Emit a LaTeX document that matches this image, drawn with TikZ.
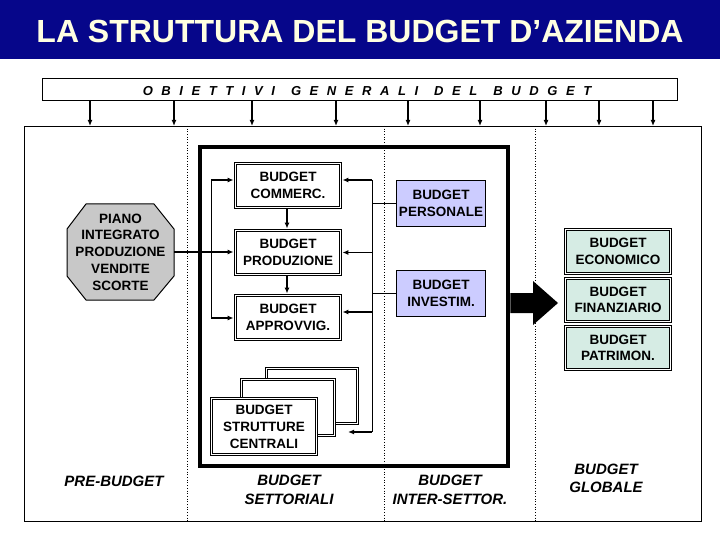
\documentclass[tikz,border=0pt]{standalone}
\usepackage{fontspec}
\setmainfont{Liberation Sans}
\usetikzlibrary{arrows.meta}
\definecolor{titleblue}{RGB}{6,6,138}
\definecolor{titlecream}{RGB}{255,255,225}
\definecolor{lav}{RGB}{204,204,255}
\definecolor{tealbox}{RGB}{214,236,228}
\definecolor{octgray}{RGB}{200,200,200}
\newcommand\boxfont{\fontsize{13.5}{16.5}\selectfont\bfseries}
\newcommand\labfont{\fontsize{15}{18.5}\selectfont\bfseries\itshape}
\tikzset{
  arr/.style={-{Latex[length=6pt,width=5pt]}, line width=1.2pt},
  thinln/.style={line width=1pt},
  dbl/.style={draw, double=white, double distance=1.4pt, line width=0.8pt,
              fill=white, align=center, font=\boxfont, inner sep=0pt},
  lavbox/.style={draw, line width=1pt, fill=lav, align=center, font=\boxfont,
              inner sep=0pt, minimum width=89pt, minimum height=46pt},
  tbox/.style={dbl, fill=tealbox, minimum width=105pt, minimum height=43pt},
  sbox/.style={dbl, minimum width=105pt, minimum height=44pt},
  lab/.style={align=center, font=\labfont, inner sep=0pt},
  divider/.style={dotted, line width=0.7pt}
}
\begin{document}
\begin{tikzpicture}[x=1pt,y=-1pt]
\useasboundingbox (0,0) rectangle (720,540);
\fill[white] (0,0) rectangle (720,540);
\fill[titleblue] (0,0) rectangle (720,59);
\node[font=\fontsize{32}{32}\selectfont\bfseries, text=titlecream, inner sep=0] (title) at (360,31) {LA STRUTTURA DEL BUDGET D’AZIENDA};

% objectives
\node[draw, line width=1pt, minimum width=635pt, minimum height=22pt, inner sep=0] (obj) at (359.5,90) {};
\node[inner sep=0, font=\fontsize{13}{13}\selectfont\bfseries\itshape\addfontfeature{LetterSpace=66}] (objt) at (367,91)
  {OBIETTIVI\hspace{16pt}GENERALI\hspace{16pt}DEL\hspace{16pt}BUDGET};

% main frame
\node[draw, line width=1.2pt, minimum width=677pt, minimum height=395pt, inner sep=0, anchor=north west] (frame) at (24,126) {};
\foreach \x in {90,174,252,336,408,480,546,599,653}
  \draw[arr] (\x,0 |- obj.south) -- (\x,0 |- frame.north);
\foreach \x in {187,384,535}
  \draw[divider] (\x,0 |- frame.north) -- (\x,0 |- frame.south);

% inner thick box
\node[draw, line width=4.5pt, minimum width=308pt, minimum height=319pt, inner sep=0] (inner) at (354,306.5) {};

% octagon
\filldraw[fill=octgray, line width=1pt] (86,204) -- (154,204) -- (174,229) -- (174,276) -- (154,300)
  -- (86,300) -- (67,276) -- (67,229) -- cycle;
\node[minimum width=107pt, minimum height=96pt, inner sep=0pt, align=center,
      font=\fontsize{13.5}{16.7}\selectfont\bfseries] (piano) at (120.5,252)
  {PIANO\\INTEGRATO\\PRODUZIONE\\VENDITE\\SCORTE};

% sector budgets
\node[sbox] (commerc) at (288,185.5) {BUDGET\\COMMERC.};
\node[sbox] (produz) at (288,252.5) {BUDGET\\PRODUZIONE};
\node[sbox] (approv) at (288,317.5) {BUDGET\\APPROVVIG.};

% strutture centrali stack
\node[dbl, minimum width=91pt, minimum height=55pt] (sback) at (312,396) {};
\node[dbl, minimum width=93pt, minimum height=56pt] (smid) at (288,407.5) {};
\node[dbl, minimum width=105pt, minimum height=56pt, font=\fontsize{13.5}{17}\selectfont\bfseries] (sfront) at (264,426.5) {BUDGET\\STRUTTURE\\CENTRALI};

% inter-sector
\node[lavbox] (person) at (441,203.5) {BUDGET\\PERSONALE};
\node[lavbox] (invest) at (441,293.5) {BUDGET\\INVESTIM.};

% global
\node[tbox, minimum height=44pt] (econ) at (618,251.5) {BUDGET\\ECONOMICO};
\node[tbox] (finan) at (618,300) {BUDGET\\FINANZIARIO};
\node[tbox] (patrim) at (618,348) {BUDGET\\PATRIMON.};

% left bracket
\coordinate (lb1) at (211,180);
\coordinate (lb2) at (211,318);
\draw[thinln] (lb1) -- (lb2);
\draw[arr, shorten >=1.5pt] (lb1) -- (lb1 -| commerc.west);
\draw[arr, shorten >=1.5pt] (lb2) -- (lb2 -| approv.west);
\draw[arr, shorten >=1.5pt] (piano.east) -- (piano.east -| produz.west);

% vertical arrows between sector budgets
\draw[arr, shorten >=1.5pt, shorten <=1.5pt] (287,0 |- commerc.south) -- (287,0 |- produz.north);
\draw[arr, shorten >=1.5pt, shorten <=1.5pt] (287,0 |- produz.south) -- (287,0 |- approv.north);

% right bracket
\coordinate (rb1) at (372,180);
\coordinate (rb2) at (372,432);
\coordinate (rbp) at (372,252.5);
\coordinate (rba) at (372,312);
\coordinate (send) at (348,432);
\draw[thinln] (rb1) -- (rb2);
\draw[arr] (rb2) -- (send);
\draw[arr, shorten >=1.5pt] (rb1) -- (rb1 -| commerc.east);
\draw[arr, shorten >=1.5pt] (rbp) -- (rbp -| produz.east);
\draw[arr, shorten >=1.5pt] (rba) -- (rba -| approv.east);
\draw[thinln] (person.west -| rb1) -- (person.west);
\draw[thinln] (invest.west -| rb1) -- (invest.west);

% big arrow
\fill (inner.east |- 0,293) -- (533,293) -- (533,281) -- (558,303) -- (533,325) -- (533,313) -- (inner.east |- 0,313) -- cycle;

% bottom labels
\node[lab] (pre) at (114,481) {PRE-BUDGET};
\node[lab] (sett) at (289,490) {BUDGET\\SETTORIALI};
\node[lab] (inter) at (450,490) {BUDGET\\INTER-SETTOR.};
\node[lab] (glob) at (606,478.5) {BUDGET\\GLOBALE};
\end{tikzpicture}
\end{document}
